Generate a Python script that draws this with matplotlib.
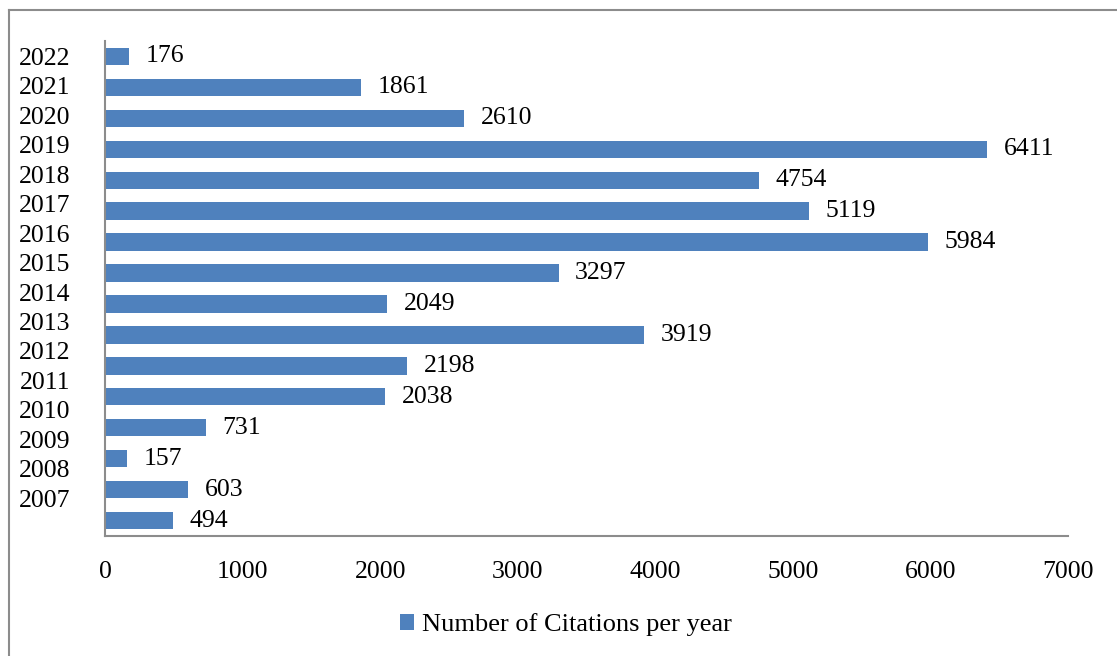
import matplotlib.pyplot as plt
import numpy as np

plt.rcParams['font.family'] = ['Liberation Serif', 'DejaVu Serif']

# bars listed top to bottom, as drawn in the chart
citations = [176, 1861, 2610, 6411, 4754, 5119, 5984, 3297,
             2049, 3919, 2198, 2038, 731, 157, 603, 494]
years = ['2022', '2021', '2020', '2019', '2018', '2017', '2016', '2015',
         '2014', '2013', '2012', '2011', '2010', '2009', '2008', '2007']
xticks = [0, 1000, 2000, 3000, 4000, 5000, 6000, 7000]

W, H = 1117, 656
fs = 18.5
fig = plt.figure(figsize=(W / 100, H / 100), dpi=100)
ax = fig.add_axes([105 / W, (H - 536) / H, (1068 - 105) / W, (536 - 41) / H])

n = len(citations)
ypos = np.arange(n)[::-1]
bars = ax.barh(ypos, citations, height=0.56, color='#4F81BD',
               label='Number of Citations per year')

for y, v in zip(ypos, citations):
    ax.annotate(str(v), (v, y), xytext=(12, 0), textcoords='offset points',
                ha='left', va='center', fontsize=fs)

ax.set_xlim(0, 7000)
ax.set_ylim(-0.5, n - 0.5)
ax.set_xticks(xticks)
ax.set_xticklabels([str(t) for t in xticks], fontsize=fs)

# year labels sit slightly compressed relative to the bars (as in source)
ax.set_yticks(np.linspace(15.0, 0.72, n))
ax.set_yticklabels(years, fontsize=fs)
ax.tick_params(axis='both', length=0)
ax.tick_params(axis='y', pad=25)
ax.tick_params(axis='x', pad=18)

for s in ['top', 'right']:
    ax.spines[s].set_visible(False)
for s in ['left', 'bottom']:
    ax.spines[s].set_color('#8c8c8c')
    ax.spines[s].set_linewidth(1.5)

fig.legend(handles=[bars], loc='center', bbox_to_anchor=(566 / W, 1 - 625 / H),
           frameon=False, fontsize=19, handlelength=0.55, handleheight=0.55,
           handletextpad=0.3)

# outer chart border (cropped at right/bottom)
fig.add_artist(plt.Line2D([9.5 / W, 1], [1 - 10 / H, 1 - 10 / H],
                          transform=fig.transFigure, color='#8c8c8c', lw=1.5))
fig.add_artist(plt.Line2D([9.5 / W, 9.5 / W], [0, 1 - 10 / H],
                          transform=fig.transFigure, color='#8c8c8c', lw=1.5))

fig.savefig('out.png', dpi=100)
